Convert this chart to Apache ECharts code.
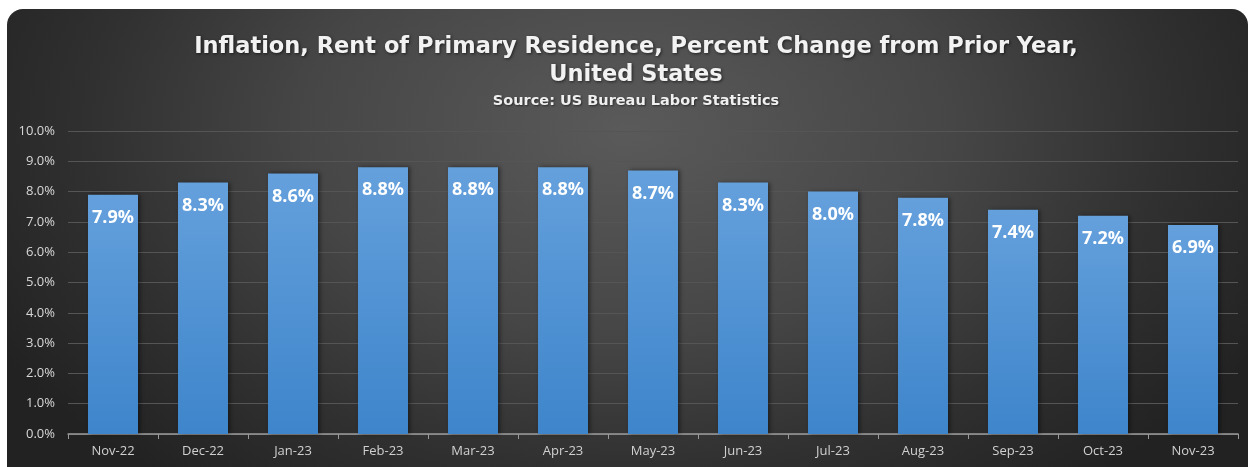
<!DOCTYPE html>
<html>
<head>
<meta charset="utf-8">
<script src="https://cdn.jsdelivr.net/npm/echarts@6/dist/echarts.min.js"></script>
<style>
html,body{margin:0;padding:0;background:#fff;width:1251px;height:467px;overflow:hidden;}
#bg{position:absolute;left:7px;top:9px;width:1241px;height:480px;border-radius:16px;
background:radial-gradient(ellipse 58% 95% at 50% 25%, #5a5a5a 0%, #464646 45%, #303030 75%, #222222 100%);}
#chart{position:absolute;left:0;top:0;width:1251px;height:467px;}
</style>
</head>
<body>
<div id="bg"></div>
<div id="chart"></div>
<script>
const categories = ['Nov-22','Dec-22','Jan-23','Feb-23','Mar-23','Apr-23','May-23','Jun-23','Jul-23','Aug-23','Sep-23','Oct-23','Nov-23'];
const rentInflation = [7.9, 8.3, 8.6, 8.8, 8.8, 8.8, 8.7, 8.3, 8.0, 7.8, 7.4, 7.2, 6.9];
const titleLines = ['Inflation, Rent of Primary Residence, Percent Change from Prior Year,', 'United States'];
const subtitleText = 'Source: US Bureau Labor Statistics';

const chart = echarts.init(document.getElementById('chart'), null, {renderer:'canvas'});
chart.setOption({
  backgroundColor: 'transparent',
  animation: false,
  title: {
    text: titleLines.join('\n'),
    subtext: subtitleText,
    left: 631, top: 28, textAlign: 'center',
    itemGap: 4,
    textStyle: {color:'#f2f2f2', fontFamily:'DejaVu Sans', fontWeight:'bold', fontSize:22.5, lineHeight:28,
      textShadowColor:'rgba(0,0,0,0.6)', textShadowBlur:3, textShadowOffsetX:1, textShadowOffsetY:1},
    subtextStyle: {color:'#f0f0f0', fontFamily:'DejaVu Sans', fontWeight:'bold', fontSize:14.5, lineHeight:16,
      textShadowColor:'rgba(0,0,0,0.5)', textShadowBlur:2, textShadowOffsetX:1, textShadowOffsetY:1}
  },
  grid: {left:68, right:13, top:131, bottom:33, containLabel:false},
  xAxis: {
    type:'category', data: categories, boundaryGap:true,
    axisLine:{show:true, lineStyle:{color:'#9a9a9a', width:1.5}},
    axisTick:{show:true, alignWithLabel:false, length:5, lineStyle:{color:'#9a9a9a'}},
    axisLabel:{color:'#d0d0d0', fontFamily:'Open Sans', fontSize:13, margin:11},
    splitLine:{show:false}
  },
  yAxis: {
    type:'value', min:0, max:10, interval:1,
    axisLine:{show:false}, axisTick:{show:false},
    axisLabel:{color:'#d8d8d8', fontFamily:'Open Sans', fontSize:13, margin:13,
      formatter: v => v.toFixed(1) + '%'},
    splitLine:{show:true, lineStyle:{color:'#555555', width:1}}
  },
  series: [{
    type:'bar', data: rentInflation, barWidth:50,
    itemStyle:{
      color: new echarts.graphic.LinearGradient(0,0,0,1,[{offset:0,color:'#64a0dc'},{offset:1,color:'#3e85cb'}]),
      shadowColor:'rgba(0,0,0,0.45)', shadowBlur:4, shadowOffsetX:2, shadowOffsetY:0
    },
    label:{show:true, position:'insideTop', distance:14, color:'#ffffff', fontFamily:'Open Sans',
      fontWeight:'bold', fontSize:18, formatter: p => p.value.toFixed(1) + '%'}
  }]
});
</script>
</body>
</html>
